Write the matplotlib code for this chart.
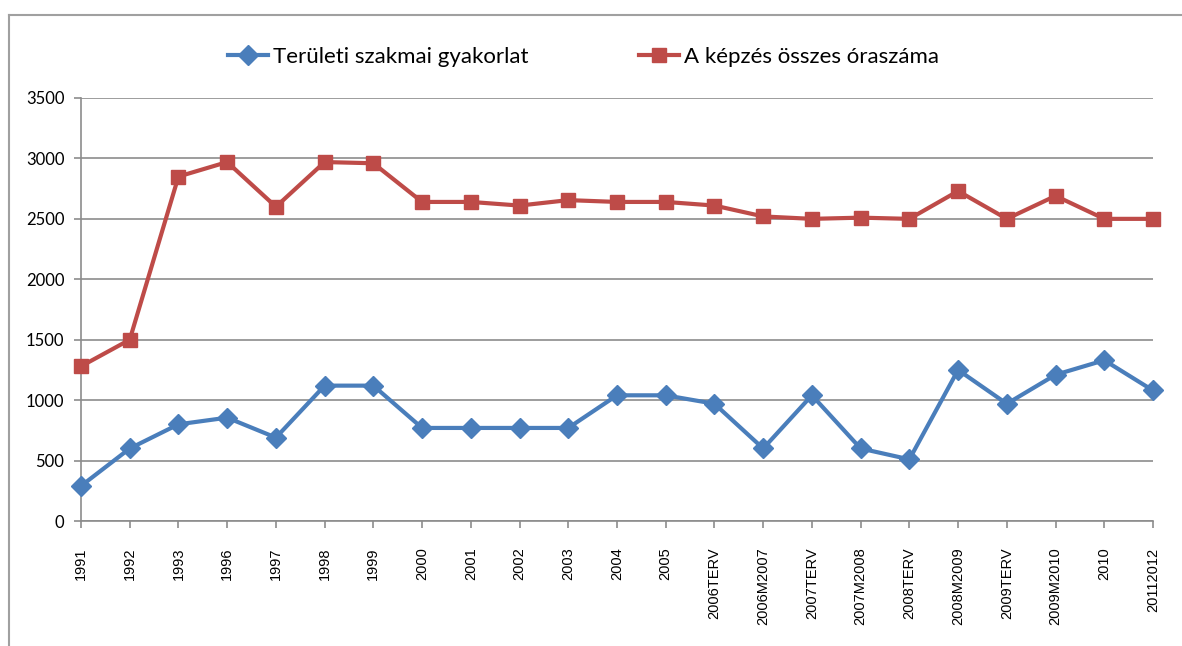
import numpy as np
import matplotlib.pyplot as plt
from matplotlib.lines import Line2D

# category labels along the x axis
categories = ['1991', '1992', '1993', '1996', '1997', '1998', '1999', '2000',
              '2001', '2002', '2003', '2004', '2005', '2006TERV', '2006M2007',
              '2007TERV', '2007M2008', '2008TERV', '2008M2009', '2009TERV',
              '2009M2010', '2010', '20112012']

# Területi szakmai gyakorlat
gyakorlat = [290, 600, 800, 855, 690, 1120, 1120, 770, 770, 770, 770, 1040,
             1040, 970, 600, 1040, 600, 510, 1250, 970, 1210, 1330, 1080]

# A képzés összes óraszáma
oraszam = [1280, 1500, 2850, 2970, 2600, 2970, 2960, 2640, 2640, 2610, 2655,
           2640, 2640, 2610, 2520, 2500, 2510, 2500, 2730, 2500, 2690, 2500, 2500]

yticks = [0, 500, 1000, 1500, 2000, 2500, 3000, 3500]

blue = '#4A7EBB'
red = '#BE4B48'
grid_c = '#8C8C8C'

W, H = 1182, 646
fig = plt.figure(figsize=(W / 100, H / 100), dpi=100)
ax = fig.add_axes([81 / W, 1 - 521 / H, (1153 - 81) / W, (521 - 98) / H])

x = np.arange(len(categories))
ax.plot(x, gyakorlat, color=blue, lw=3, marker='D', ms=10, mec=blue, mfc=blue,
        zorder=3, clip_on=False)
ax.plot(x, oraszam, color=red, lw=3, marker='s', ms=10.5, mec=red, mfc=red,
        zorder=3, clip_on=False)

ax.set_xlim(0, len(categories) - 1)
ax.set_ylim(0, 3500)
ax.set_yticks(yticks)
ax.set_yticklabels([str(v) for v in yticks], fontsize=12, family='Lato')
ax.set_xticks(x)
ax.set_xticklabels(categories, rotation=90, fontsize=10.5, family='Liberation Sans',
                   va='top', ha='center')
ax.grid(axis='y', color=grid_c, lw=1.2)
ax.set_axisbelow(True)
for s in ['top', 'right']:
    ax.spines[s].set_visible(False)
for s in ['left', 'bottom']:
    ax.spines[s].set_color(grid_c)
    ax.spines[s].set_linewidth(1.2)
ax.tick_params(axis='both', color=grid_c, width=1.2, length=5)
ax.tick_params(axis='y', pad=7)
ax.tick_params(axis='x', pad=14)

handles = [Line2D([], [], color=blue, lw=3, marker='D', ms=10),
           Line2D([], [], color=red, lw=3, marker='s', ms=10.5)]
fig.legend(handles, ['Területi szakmai gyakorlat', 'A képzés összes óraszáma'],
           loc='center', bbox_to_anchor=(0.4937, 1 - 57 / H), ncol=2, frameon=False,
           prop={'family': 'Lato', 'size': 16}, handlelength=1.8, handletextpad=0.22,
           columnspacing=5.0)

# outer chart border
fig.add_artist(Line2D([9 / W, 9 / W], [0, 1 - 15 / H], color='#A0A0A0', lw=1.5))
fig.add_artist(Line2D([9 / W, 1], [1 - 15 / H, 1 - 15 / H], color='#A0A0A0', lw=1.5))

fig.savefig('out.png', dpi=100)
